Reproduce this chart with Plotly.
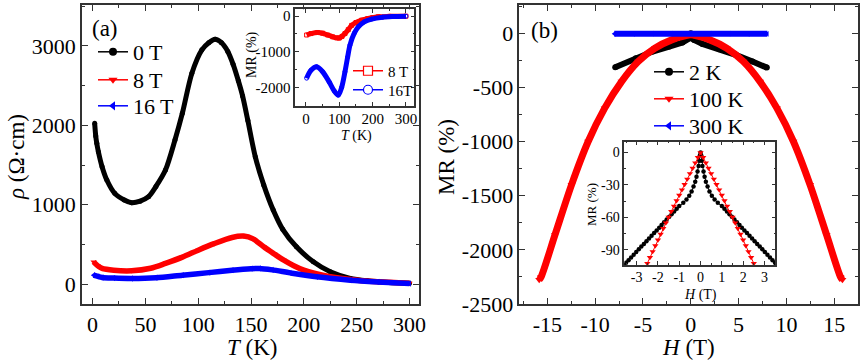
import plotly.graph_objects as go

# ---------------- Panel (a): rho vs T ----------------
T_0T = [2, 3, 4, 5.5, 9, 13.5, 21, 30, 37, 45, 53, 60, 69, 78, 85, 94, 103.5, 110, 116,
        122, 128, 133, 138, 142, 147, 154, 162, 171, 180, 193, 209, 225, 244, 260, 280, 300]
rho_0T = [2025, 1866, 1773, 1668, 1479, 1311, 1143, 1060, 1025, 1045, 1101, 1230, 1437, 1815,
          2152, 2656, 2950, 3040, 3084, 3040, 2930, 2770, 2560, 2370, 2060, 1605, 1250, 933,
          690, 470, 281, 155, 72, 42, 22, 12]

T_8T = [1, 5, 9, 20, 37, 55, 69, 85, 100, 115, 132, 143, 152, 162, 172, 181, 190, 200,
        218, 244, 270, 300]
rho_8T = [281, 230, 198, 175, 168, 200, 261, 340, 428, 510, 588, 605, 570, 470, 380, 302,
          235, 176, 113, 59, 30, 12]

T_16T = [1, 5, 9, 20, 37, 60, 85, 110, 132, 150, 158, 170, 187, 212, 244, 270, 300]
rho_16T = [113, 97, 84, 76, 71, 80, 113, 145, 176, 195, 198, 180, 142, 92, 50, 28, 8]

# inset (a): MR vs T
Ti_8T = [2, 15, 35, 50, 65, 80, 92, 100, 108, 117, 127, 137, 150, 167, 185, 200, 217, 250, 300]
MRi_8T = [-530, -490, -460, -480, -530, -580, -610, -615, -570, -490, -380, -260, -180, -115,
          -70, -45, -20, -8, -3]
Ti_16T = [2, 15, 32, 50, 70, 85, 97, 107, 117, 125, 132, 145, 157, 175, 197, 230, 260, 300]
MRi_16T = [-1740, -1520, -1420, -1560, -1850, -2100, -2215, -2000, -1560, -1150, -813, -480,
           -300, -160, -84, -30, -12, -3]

# ---------------- Panel (b): MR vs H ----------------
H_2K = [-7.9, -5.75, -4.0, -2.26, -0.87, -0.1, 0, 0.1, 0.35, 1.22, 2.97, 4.7, 6.45, 7.95]
MR_2K = [-315, -231, -170, -124, -87, -46, 0, -46, -62, -99, -148, -200, -262, -318]

H_100K = [-15.85, -15.65, -14.2, -12.47, -10.73, -9, -7.24, -5.5, -3.76, -2, -0.27, 0,
          0.27, 2, 3.76, 5.5, 7.24, 9, 10.73, 12.47, 14.2, 15.65, 15.85]
MR_100K = [-2275, -2250, -1862, -1400, -1000, -692, -447, -262, -139, -62, -18, -15,
           -18, -62, -139, -262, -447, -692, -1000, -1400, -1862, -2250, -2275]

H_300K = [-8, -6, -4, -2, 0, 2, 4, 6, 8]
MR_300K = [-6, -6, -5, -4, -2, -4, -5, -6, -6]

# inset (b): low-field MR
Hi_2K = [-3.6, -3.5, -3.38, -3.26, -3.14, -3.02, -2.9, -2.78, -2.66, -2.54, -2.42, -2.3,
         -2.18, -2.06, -1.94, -1.83, -1.71, -1.59, -1.47, -1.36, -1.24, -1.12, -1.0, -0.81,
         -0.66, -0.53, -0.42, -0.33, -0.25, -0.19, -0.14, -0.09, -0.06, -0.03, 0,
         0.03, 0.06, 0.09, 0.14, 0.19, 0.25, 0.33, 0.42, 0.53, 0.66, 0.81, 1.0, 1.12, 1.24,
         1.36, 1.47, 1.59, 1.71, 1.83, 1.94, 2.06, 2.18, 2.3, 2.42, 2.54, 2.66, 2.78, 2.9,
         3.02, 3.14, 3.26, 3.38, 3.5, 3.6]
MRi_2K = [-104, -102, -99.6, -97, -94.5, -92, -89.5, -87, -84.5, -82, -79.5, -77,
          -74.5, -72, -69.5, -67, -64.5, -62, -59.5, -57, -54.5, -52, -49.5, -46.5,
          -43.5, -40, -36, -31.5, -27, -22.5, -17.5, -12.5, -7.5, -2.5, 0,
          -2.5, -7.5, -12.5, -17.5, -22.5, -27, -31.5, -36, -40, -43.5, -46.5, -49.5, -52,
          -54.5, -57, -59.5, -62, -64.5, -67, -69.5, -72, -74.5, -77, -79.5, -82, -84.5, -87,
          -89.5, -92, -94.5, -97, -99.6, -102, -104]

Hi_100K = [-2.5, -2.375, -2.25, -2.125, -2.0, -1.875, -1.75, -1.625, -1.5, -1.375, -1.25,
           -1.125, -1.0, -0.875, -0.75, -0.625, -0.5, -0.375, -0.25, -0.125, 0,
           0.125, 0.25, 0.375, 0.5, 0.625, 0.75, 0.875, 1.0, 1.125, 1.25, 1.375, 1.5,
           1.625, 1.75, 1.875, 2.0, 2.125, 2.25, 2.375, 2.5]
MRi_100K = [-102.5, -97, -91.6, -86.2, -80.8, -75.5, -70.2, -65, -59.8, -54.5, -49.5,
            -44.5, -39.5, -34.5, -29.5, -24.5, -19.5, -14.5, -9.5, -4.5, 0,
            -4.5, -9.5, -14.5, -19.5, -24.5, -29.5, -34.5, -39.5, -44.5, -49.5, -54.5, -59.8,
            -65, -70.2, -75.5, -80.8, -86.2, -91.6, -97, -102.5]

# tick labels
a_xticks = [0, 50, 100, 150, 200, 250, 300]
a_yticks = [0, 1000, 2000, 3000]
ai_xticks = [0, 100, 200, 300]
ai_yticks = [0, -1000, -2000]
ai_ytext = ['0', '-1000', '-2000']
b_xticks = [-15, -10, -5, 0, 5, 10, 15]
b_xtext = ['-15', '-10', '-5', '0', '5', '10', '15']
b_yticks = [0, -500, -1000, -1500, -2000, -2500]
b_ytext = ['0', '-500', '-1000', '-1500', '-2000', '-2500']
bi_xticks = [-3, -2, -1, 0, 1, 2, 3]
bi_xtext = ['-3', '-2', '-1', '0', '1', '2', '3']
bi_yticks = [0, -30, -60, -90]
bi_ytext = ['0', '-30', '-60', '-90']

BLACK, RED, BLUE = '#000000', '#ff0000', '#0000ff'
FONT = 'Liberation Serif'
W, H = 865, 364


def dx(a, b):
    return [a / W, b / W]


def dy(top, bottom):
    return [1 - bottom / H, 1 - top / H]


fig = go.Figure()


def band(x, y, color, sym, width, xa, ya, msize=None, smooth=True):
    fig.add_trace(go.Scatter(
        x=x, y=y, mode='lines+markers', xaxis=xa, yaxis=ya, showlegend=False,
        line=dict(color=color, width=width, shape='spline' if smooth else 'linear',
                  smoothing=0.8),
        marker=dict(symbol=sym, size=msize or width, color=color,
                    line=dict(color=color, width=1 if 'open' in sym else 0))))


def leg(name, color, sym, legend, size=8, open_=False, xa='x', ya='y'):
    fig.add_trace(go.Scatter(
        x=[None], y=[None], mode='lines+markers', name=name, legend=legend,
        xaxis=xa, yaxis=ya,
        line=dict(color=color, width=1.5),
        marker=dict(symbol=sym, size=size, color='white' if open_ else color,
                    line=dict(color=color, width=1.2 if open_ else 0))))


# Panel (a)
band(T_0T, rho_0T, BLACK, 'circle', 5, 'x', 'y')
band(T_8T, rho_8T, RED, 'triangle-down', 5.5, 'x', 'y')
band(T_16T, rho_16T, BLUE, 'triangle-left', 5.5, 'x', 'y')
leg('0 T', BLACK, 'circle', 'legend')
leg('8 T', RED, 'triangle-down', 'legend2')
leg('16 T', BLUE, 'triangle-left', 'legend3')

# Inset (a)
band(Ti_8T, MRi_8T, RED, 'square-open', 5, 'x2', 'y2', msize=4)
band(Ti_16T, MRi_16T, BLUE, 'circle-open', 5, 'x2', 'y2', msize=4)
leg('8 T', RED, 'square', 'legend4', size=9, open_=True, xa='x2', ya='y2')
leg('16T', BLUE, 'circle', 'legend5', size=9, open_=True, xa='x2', ya='y2')

# Panel (b)
band(H_2K, MR_2K, BLACK, 'circle', 6, 'x3', 'y3', smooth=False)
band(H_100K, MR_100K, RED, 'triangle-down', 7, 'x3', 'y3')
band(H_300K, MR_300K, BLUE, 'triangle-left', 6, 'x3', 'y3', msize=5, smooth=False)
leg('2 K', BLACK, 'circle', 'legend6', xa='x3', ya='y3')
leg('100 K', RED, 'triangle-down', 'legend7', xa='x3', ya='y3')
leg('300 K', BLUE, 'triangle-left', 'legend8', xa='x3', ya='y3')

# Inset (b)
fig.add_trace(go.Scatter(x=Hi_2K, y=MRi_2K, mode='lines+markers', xaxis='x4', yaxis='y4',
                         showlegend=False, line=dict(color=BLACK, width=1),
                         marker=dict(symbol='circle', size=4.5, color=BLACK)))
fig.add_trace(go.Scatter(x=Hi_100K, y=MRi_100K, mode='lines+markers', xaxis='x4', yaxis='y4',
                         showlegend=False, line=dict(color=RED, width=1),
                         marker=dict(symbol='triangle-down', size=5.5, color=RED)))


def axis(domain, rng, tickvals, ticktext, fsize, minor, anchor, ticklen=6, mlen=3,
         standoff=0):
    return dict(
        domain=domain, range=rng, anchor=anchor, showline=True, linecolor='#333',
        linewidth=1.5, mirror='allticks', ticks='inside', ticklen=ticklen, tickwidth=1.3,
        tickcolor='#333', showgrid=False, zeroline=False, tickmode='array',
        tickvals=tickvals, ticktext=ticktext or [str(v) for v in tickvals],
        tickfont=dict(family=FONT, size=fsize, color='black'),
        ticklabelstandoff=standoff,
        minor=dict(ticks='inside', ticklen=mlen, tickwidth=1.2, tickcolor='#333',
                   tickmode='linear', tick0=0, dtick=minor, showgrid=False),
        automargin=False)


def legend_box(left, cy, size):
    return dict(x=left / W, y=1 - cy / H, xanchor='left', yanchor='middle',
                bgcolor='rgba(0,0,0,0)', font=dict(family=FONT, size=size, color='black'),
                tracegroupgap=0, itemwidth=30, borderwidth=0)


def label(text, x, y, size, angle=0, xanchor='center', yanchor='middle'):
    return dict(text=text, x=x / W, y=1 - y / H, xref='paper', yref='paper',
                xanchor=xanchor, yanchor=yanchor, showarrow=False, textangle=angle,
                font=dict(family=FONT, size=size, color='black'))


fig.update_layout(
    width=W, height=H, margin=dict(l=0, r=0, t=0, b=0),
    paper_bgcolor='white', plot_bgcolor='white',
    xaxis=axis(dx(82, 419), [-10, 309], a_xticks, None, 22, 25, 'y'),
    yaxis=axis(dy(5, 304), [-250, 3515], a_yticks, None, 22, 500, 'x'),
    xaxis2=axis(dx(295.3, 414.3), [-32, 325], ai_xticks, None, 15, 50, 'y2', 4, 2, -2),
    yaxis2=axis(dy(9.3, 106), [-2520, 190], ai_yticks, ai_ytext, 15, 500, 'x2', 4, 2),
    xaxis3=axis(dx(519.3, 857.7), [-17.93, 17.45], b_xticks, b_xtext, 22, 2.5, 'y3'),
    yaxis3=axis(dy(5, 304), [-2500, 260], b_yticks, b_ytext, 22, 250, 'x3'),
    xaxis4=axis(dx(624.3, 775.3), [-3.58, 3.51], bi_xticks, bi_xtext, 14, 0.5, 'y4', 4, 2, -2),
    yaxis4=axis(dy(141.7, 265), [-104, 10], bi_yticks, bi_ytext, 14, 15, 'x4', 4, 2),
    legend=legend_box(93, 52, 22),
    legend2=legend_box(93, 80, 22),
    legend3=legend_box(93, 106, 22),
    legend4=legend_box(348, 71, 15),
    legend5=legend_box(348, 90, 15),
    legend6=legend_box(649, 72, 22),
    legend7=legend_box(649, 99, 22),
    legend8=legend_box(649, 126, 22),
    annotations=[
        label('(a)', 90, 29, 23, xanchor='left'),
        label('(b)', 529, 30, 23, xanchor='left'),
        label('<i>T</i> (K)', 252, 347, 23),
        label('<i>ρ</i> (Ω·cm)', 16, 157, 23, angle=-90),
        label('<i>H</i> (T)', 688, 347, 23),
        label('MR (%)', 446, 157, 23, angle=-90),
        label('<i>T</i> (K)', 356, 136, 14),
        label('MR (%)', 252, 55, 14, angle=-90),
        label('<i>H</i> (T)', 700, 295, 14),
        label('MR (%)', 591, 205, 13, angle=-90),
    ],
)

fig.write_html('out.html', config={'displayModeBar': False},
               post_script="document.body.style.margin='0';document.body.style.padding='0';")
